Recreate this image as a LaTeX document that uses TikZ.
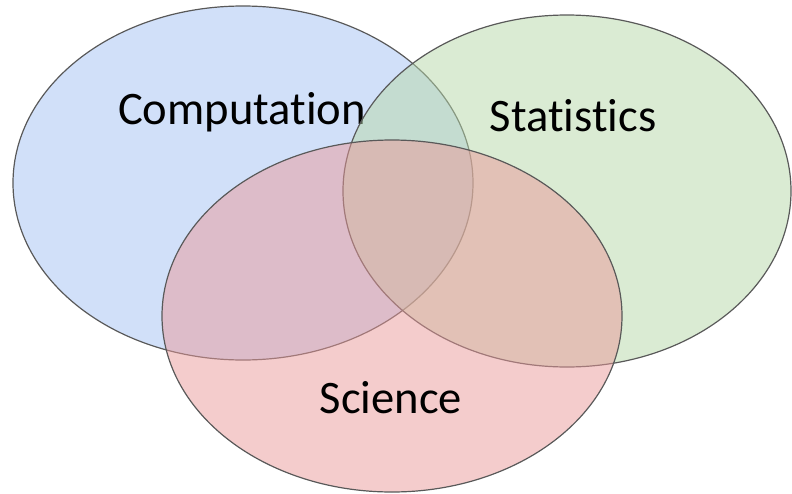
\documentclass[tikz,border=0pt]{standalone}
\usepackage{fontspec}
\setmainfont[Ligatures=NoCommon]{Carlito}
\usetikzlibrary{shapes.geometric}
\definecolor{compblue}{HTML}{A4C2F4}
\definecolor{statgreen}{HTML}{B6D7A8}
\definecolor{scired}{HTML}{EA9999}
\definecolor{rim}{HTML}{595959}
\tikzset{
    set/.style =    {ellipse,
                    draw=rim,
                    line width=1.2pt,
                    fill opacity=0.5,
                    draw opacity=1,
                    inner sep=0pt},
    field/.style =  {text=black,
                    inner sep=0pt,
                    font=\fontsize{46.6}{50}\selectfont}}

\begin{document}
\begin{tikzpicture}[x=1pt,y=-1pt]
                \useasboundingbox (0,0) rectangle (792,493);
                \node[set,fill=compblue,minimum width=460pt,minimum height=354pt]   (comp) at (243,183) {};
                \node[field]        (compl) at (242,112)    {Computation};
                \node[set,fill=statgreen,minimum width=448pt,minimum height=352pt]  (stat) at (567,191) {};
                \node[field]        (statl) at (573,116)    {Statistics};
                \node[set,fill=scired,minimum width=460pt,minimum height=352pt]     (sci) at (392,316) {};
                \node[field]        (scil) at (391,398)     {Science};
        \end{tikzpicture}
\end{document}
